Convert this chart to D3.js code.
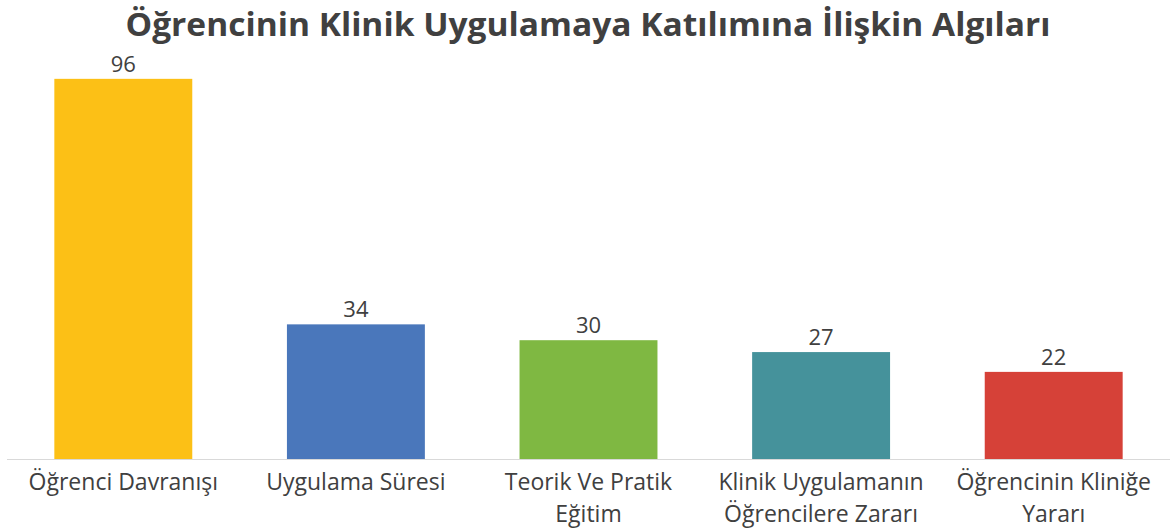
<!DOCTYPE html>
<html>
<head>
<meta charset="utf-8">
<script src="https://cdn.jsdelivr.net/npm/d3@7"></script>
<style>
  body { margin: 0; background: #fff; }
  text { font-family: "Open Sans", "Noto Sans", sans-serif; fill: #404040; }
</style>
</head>
<body>
<div></div>
<script>
var categories = [
  ["Öğrenci Davranışı"],
  ["Uygulama Süresi"],
  ["Teorik Ve Pratik", "Eğitim"],
  ["Klinik Uygulamanın", "Öğrencilere Zararı"],
  ["Öğrencinin Kliniğe", "Yararı"]
];
var values = [96, 34, 30, 27, 22];
var colors = ["#fcc016", "#4a77bb", "#7fb842", "#45929b", "#d64138"];
var title = "Öğrencinin Klinik Uygulamaya Katılımına İlişkin Algıları";

var widthSvg = 1176,
    heightSvg = 531;

var svg = d3.select("div").append("svg")
    .attr("width", widthSvg)
    .attr("height", heightSvg);

var x0 = 7, x1 = 1170, baseY = 459;

var xScale = d3.scaleBand()
    .domain(d3.range(values.length))
    .range([x0, x1])
    .paddingInner(0.407)
    .paddingOuter(0.2035);

var yScale = d3.scaleLinear()
    .domain([0, 100])
    .range([baseY, 63]);

svg.append("text")
    .attr("x", 588)
    .attr("y", 36)
    .attr("text-anchor", "middle")
    .attr("font-size", 33)
    .attr("font-weight", "bold")
    .attr("textLength", 925)
    .attr("lengthAdjust", "spacingAndGlyphs")
    .text(title);

var g = svg.append("g");

g.selectAll("rect")
    .data(values)
    .enter().append("rect")
    .attr("x", function (d, i) { return xScale(i); })
    .attr("y", function (d) { return yScale(d); })
    .attr("width", xScale.bandwidth())
    .attr("height", function (d) { return baseY - yScale(d); })
    .attr("fill", function (d, i) { return colors[i]; });

g.selectAll(".val")
    .data(values)
    .enter().append("text")
    .attr("class", "val")
    .attr("x", function (d, i) { return xScale(i) + xScale.bandwidth() / 2; })
    .attr("y", function (d) { return yScale(d) - 7; })
    .attr("text-anchor", "middle")
    .attr("font-size", 22)
    .text(function (d) { return d; });

svg.append("line")
    .attr("x1", x0).attr("x2", x1)
    .attr("y1", baseY + 0.5).attr("y2", baseY + 0.5)
    .attr("stroke", "#d9d9d9")
    .attr("stroke-width", 1);

var labels = svg.selectAll(".cat")
    .data(categories)
    .enter().append("text")
    .attr("class", "cat")
    .attr("text-anchor", "middle")
    .attr("font-size", 23)
    .attr("x", function (d, i) { return xScale(i) + xScale.bandwidth() / 2; })
    .attr("y", 490);

labels.selectAll("tspan")
    .data(function (d) { return d; })
    .enter().append("tspan")
    .attr("x", function () { return d3.select(this.parentNode).attr("x"); })
    .attr("dy", function (d, i) { return i ? 32 : 0; })
    .text(function (d) { return d; });
</script>
</body>
</html>
